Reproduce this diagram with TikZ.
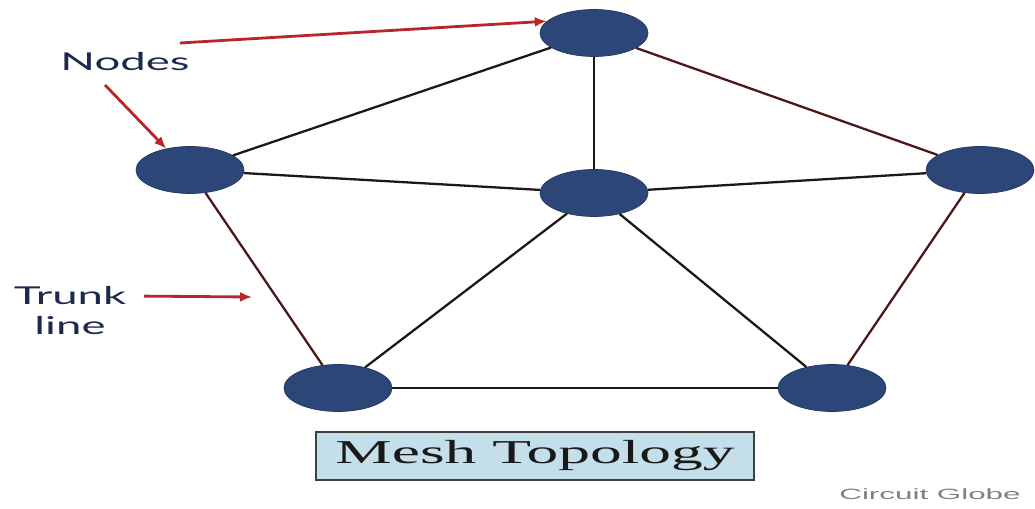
\documentclass[tikz,border=0pt]{standalone}
\usepackage{fontspec}
\setmainfont{Liberation Serif}
\newfontfamily\lblfont{Lato}
\newfontfamily\wmfont{Liberation Sans}
\usetikzlibrary{arrows.meta,shapes.geometric}
\definecolor{nodeblue}{HTML}{2C4677}
\definecolor{arrowred}{HTML}{B8262B}
\definecolor{linkred}{HTML}{4A1818}
\definecolor{labelnavy}{HTML}{1D2A4C}
\definecolor{titleblue}{HTML}{C4DFEA}

\begin{document}
\begin{tikzpicture}[>={Latex[length=2.4mm,width=2mm]},
 host/.style={ellipse,draw=nodeblue!80!black,fill=nodeblue,minimum width=2.16cm,minimum height=0.94cm},
 link/.style={line width=1.3pt,black!90},
 rlink/.style={line width=1.3pt,linkred},
 pointer/.style={->,line width=1.6pt,arrowred},
 lbl/.style={text=labelnavy,font=\lblfont\fontsize{14}{17}\selectfont,xscale=1.85,inner sep=1pt}]
\useasboundingbox (0,0) rectangle (20.7,10.16);
% hosts
\node[host] (top) at (11.88,9.5) {};
\node[host] (lft) at (3.8,6.76) {};
\node[host] (mid) at (11.88,6.3) {};
\node[host] (rgt) at (19.6,6.76) {};
\node[host] (bl) at (6.76,2.4) {};
\node[host] (br) at (16.64,2.4) {};
% mesh links
\draw[link] (top) -- (lft);
\draw[link] (top) -- (mid);
\draw[rlink] (top) -- (rgt);
\draw[link] (lft) -- (mid);
\draw[link] (mid) -- (rgt);
\draw[rlink] (lft) -- (bl);
\draw[link] (mid) -- (bl);
\draw[link] (mid) -- (br);
\draw[link] (bl) -- (br);
\draw[rlink] (rgt) -- (br);
% labels
\node[lbl] (nodes) at (2.5,8.92) {Nodes};
\node[lbl] (trunk) at (1.4,4.24) {Trunk};
\node[lbl] (line) at (1.4,3.64) {line};
\coordinate (ntail) at (3.6,9.3);
\coordinate (ltail) at (2.1,8.46);
\coordinate (thead) at (5.04,4.22);
\draw[pointer] (ntail) -- (top.166);
\draw[pointer] (ltail) -- (lft.138);
\draw[pointer,shorten <=8pt] (trunk.east) -- (thead);
% title
\node[draw=black!75,fill=titleblue,line width=0.8pt,minimum width=8.76cm,minimum height=0.96cm] (title) at (10.7,1.04) {};
\node[font=\fontsize{19}{22}\selectfont,xscale=1.9,text=black!90] (ttext) at (title) {Mesh Topology};
\node[font=\wmfont\fontsize{8.5}{10}\selectfont,xscale=2.1,text=black!50] (wm) at (18.6,0.28) {Circuit Globe};
\end{tikzpicture}
\end{document}
